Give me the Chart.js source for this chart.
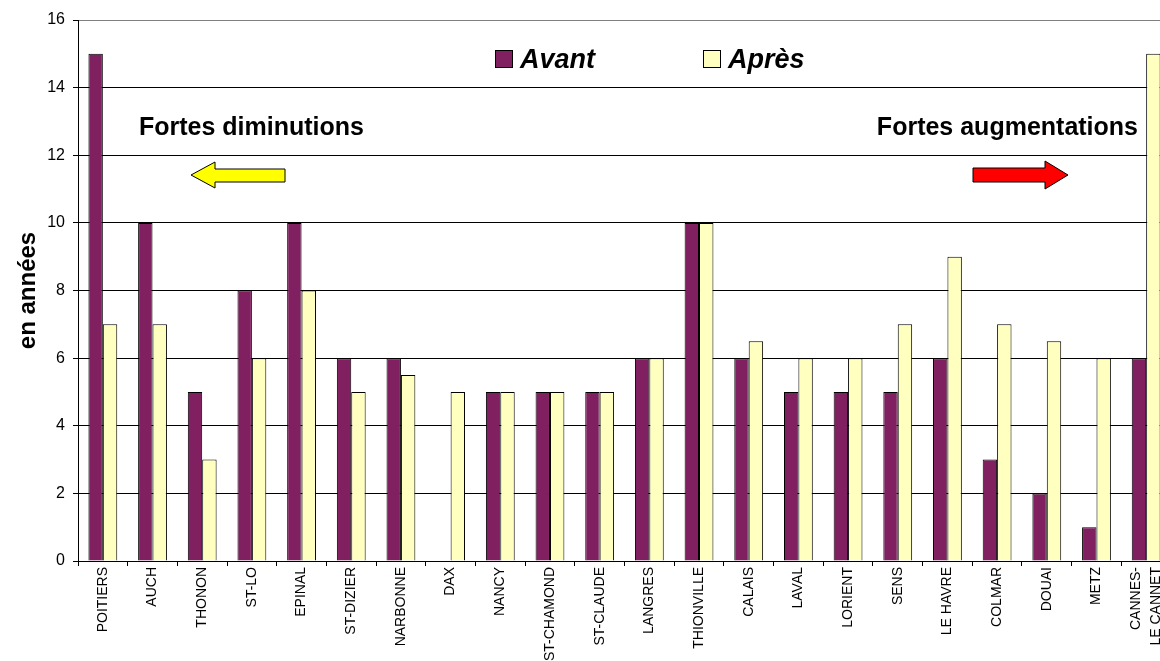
<!DOCTYPE html>
<html>
<head>
<meta charset="utf-8">
<script src="https://cdn.jsdelivr.net/npm/chart.js@4/dist/chart.umd.min.js"></script>
<style>
html,body{margin:0;padding:0;background:#fff;overflow:hidden;width:1160px;height:661px;}
canvas{display:block;}
</style>
</head>
<body>
<canvas id="c" width="1172" height="661"></canvas>
<script>
const categories = ["POITIERS","AUCH","THONON","ST-LO","EPINAL","ST-DIZIER","NARBONNE","DAX","NANCY","ST-CHAMOND","ST-CLAUDE","LANGRES","THIONVILLE","CALAIS","LAVAL","LORIENT","SENS","LE HAVRE","COLMAR","DOUAI","METZ",["CANNES-","LE CANNET"]];
const avant = [15,10,5,8,10,6,6,null,5,5,5,6,10,6,5,5,5,6,3,2,1,6];
const apres = [7,7,3,6,8,5,5.5,5,5,5,5,6,10,6.5,6,6,7,9,7,6.5,6,15];
const yTicks = [0,2,4,6,8,10,12,14,16];
const seriesNames = ["Avant","Après"];
const colAvant = "#802060";
const colApres = "#FFFFC0";
const FONT = "'Liberation Sans', Arial, sans-serif";

const legendPlugin = {
  id: 'customLegend',
  afterDraw(chart) {
    const ctx = chart.ctx;
    const items = [{x:495, label: chart.data.datasets[0].label, color: chart.data.datasets[0].backgroundColor},
                   {x:703, label: chart.data.datasets[1].label, color: chart.data.datasets[1].backgroundColor}];
    ctx.save();
    items.forEach(it => {
      ctx.fillStyle = it.color;
      ctx.fillRect(it.x + 0.5, 50.5, 17, 17);
      ctx.strokeStyle = '#000';
      ctx.lineWidth = 1;
      ctx.strokeRect(it.x + 0.5, 50.5, 17, 17);
      ctx.fillStyle = '#000';
      ctx.font = "italic bold 27px " + FONT;
      ctx.textBaseline = 'alphabetic';
      ctx.textAlign = 'left';
      ctx.fillText(it.label, it.x + 25, 68);
    });
    ctx.restore();
  }
};

// shift the two-line last label so both lines sit like the reference
const labelFixPlugin = {
  id: 'labelFix',
  beforeDraw(chart) {
    const s = chart.scales.x;
    if (!s || !s.getLabelItems) return;
    const items = s.getLabelItems(chart.chartArea);
    if (!items || !items.length) return;
    const last = items[items.length - 1];
    if (Array.isArray(last.label) && !last._fixed) {
      last._fixed = true;
      last.font = Object.assign({}, last.font, {lineHeight: 20});
      if (last.options && last.options.translation) {
        last.options.translation = [last.options.translation[0] - 10, last.options.translation[1]];
      }
    }
  }
};

const notesPlugin = {
  id: 'notes',
  afterDraw(chart) {
    const ctx = chart.ctx;
    ctx.save();
    ctx.fillStyle = '#000';
    ctx.font = "bold 25px " + FONT;
    ctx.textBaseline = 'alphabetic';
    ctx.textAlign = 'left';
    ctx.fillText("Fortes diminutions", 139, 135);
    ctx.textAlign = 'right';
    ctx.fillText("Fortes augmentations", 1138, 135);
    // left yellow arrow
    ctx.beginPath();
    ctx.moveTo(191, 175);
    ctx.lineTo(215, 162);
    ctx.lineTo(215, 169);
    ctx.lineTo(285, 169);
    ctx.lineTo(285, 182);
    ctx.lineTo(215, 182);
    ctx.lineTo(215, 188);
    ctx.closePath();
    ctx.fillStyle = '#FFFF00';
    ctx.fill();
    ctx.strokeStyle = '#000';
    ctx.lineWidth = 1;
    ctx.stroke();
    // right red arrow
    ctx.beginPath();
    ctx.moveTo(1068, 175);
    ctx.lineTo(1045, 161);
    ctx.lineTo(1045, 168);
    ctx.lineTo(973, 168);
    ctx.lineTo(973, 182);
    ctx.lineTo(1045, 182);
    ctx.lineTo(1045, 189);
    ctx.closePath();
    ctx.fillStyle = '#FF0000';
    ctx.fill();
    ctx.stroke();
    ctx.restore();
  }
};

new Chart(document.getElementById('c'), {
  type: 'bar',
  data: {
    labels: categories,
    datasets: [
      {label: seriesNames[0], data: avant, backgroundColor: colAvant, borderColor: '#000', borderWidth: 1, barPercentage: 1, categoryPercentage: 0.58},
      {label: seriesNames[1], data: apres, backgroundColor: colApres, borderColor: '#000', borderWidth: 1, barPercentage: 1, categoryPercentage: 0.58}
    ]
  },
  options: {
    responsive: false,
    animation: false,
    devicePixelRatio: 1,
    layout: {padding: {top: 20, left: 0, right: 1, bottom: 0}},
    plugins: {legend: {display: false}, tooltip: {enabled: false}},
    scales: {
      x: {
        grid: {display: true, drawOnChartArea: false, drawTicks: true, tickLength: 5, color: '#000', offset: true},
        border: {display: true, color: '#000', width: 1},
        ticks: {minRotation: 90, maxRotation: 90, autoSkip: false, padding: 1, color: '#000', font: {family: FONT, size: 14}},
        afterFit(s) { s.height = 100; s.paddingLeft = 0; s.paddingRight = 0; }
      },
      y: {
        min: 0, max: 16,
        afterBuildTicks(s) { s.ticks = yTicks.map(v => ({value: v})); },
        grid: {color: ctx => (ctx.tick && ctx.tick.value === 16) ? '#808080' : '#000', tickColor: '#000', tickLength: 5, lineWidth: 1},
        border: {display: true, color: '#000', width: 1},
        ticks: {padding: 8, color: '#000', font: {family: FONT, size: 16}},
        title: {display: true, text: 'en années', color: '#000', font: {family: FONT, size: 24, weight: 'bold'}, padding: {top: 14, bottom: 0}},
        afterFit(s) { s.width = 78; }
      }
    }
  },
  plugins: [labelFixPlugin, legendPlugin, notesPlugin]
});
</script>
</body>
</html>
